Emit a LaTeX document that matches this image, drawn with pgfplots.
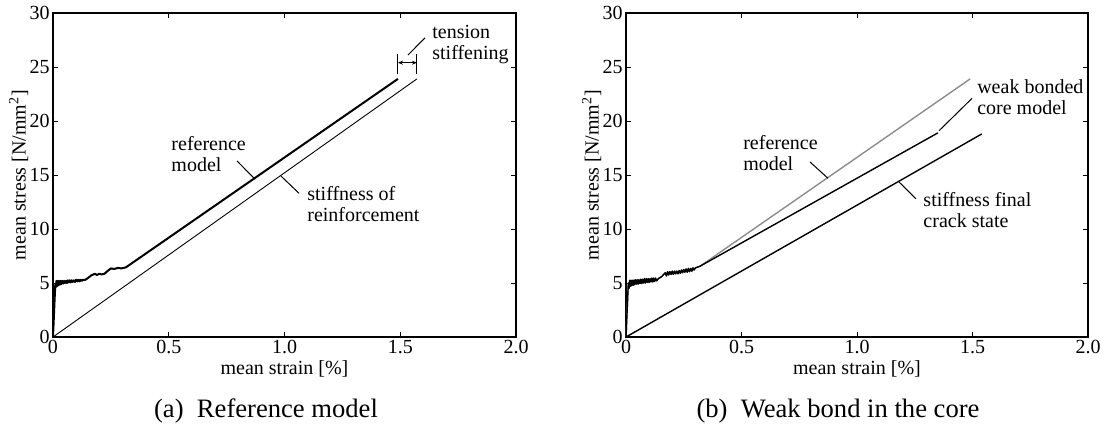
\documentclass[border=0pt]{standalone}
\usepackage{fontspec}
\setmainfont{Liberation Serif}
\usepackage{pgfplots}
\usepackage{pgfplotstable}
\pgfplotsset{compat=1.18}
\usetikzlibrary{arrows.meta}

% cracking plateau, reference model (a)
\pgfplotstableread{
x y
0 0
0.006 3.0
0.010 4.9
0.012 4.6
0.015 5.2
0.018 4.7
0.021 5.2
0.024 4.8
0.027 5.2
0.030 4.85
0.033 5.2
0.036 4.9
0.040 5.2
0.044 4.95
0.048 5.2
0.052 5.0
0.056 5.2
0.060 5.0
0.064 5.25
0.068 5.05
0.072 5.25
0.076 5.05
0.080 5.25
0.085 5.1
0.090 5.25
0.095 5.1
0.100 5.3
0.105 5.15
0.110 5.3
0.115 5.15
0.120 5.3
0.125 5.2
0.130 5.3
0.140 5.3
0.150 5.45
0.165 5.7
0.180 5.85
0.190 5.75
0.200 5.85
0.210 5.8
0.222 5.85
0.235 6.1
0.250 6.35
0.265 6.3
0.280 6.4
0.295 6.35
0.315 6.45
1.49 23.9
}\refA

% cracking plateau, figure (b)
\pgfplotstableread{
x y
0 0
0.006 3.0
0.010 5.0
0.013 4.5
0.016 5.25
0.019 4.7
0.022 5.25
0.025 4.75
0.028 5.25
0.031 4.8
0.034 5.25
0.037 4.85
0.040 5.3
0.044 4.9
0.048 5.3
0.052 4.9
0.056 5.3
0.060 4.95
0.064 5.35
0.068 4.95
0.072 5.35
0.076 5.0
0.080 5.4
0.084 5.0
0.088 5.4
0.092 5.05
0.096 5.4
0.100 5.05
0.104 5.4
0.108 5.1
0.112 5.45
0.116 5.1
0.120 5.45
0.124 5.15
0.128 5.45
0.132 5.2
0.140 5.4
0.155 5.6
0.170 5.95
0.175 5.65
0.180 6.05
0.185 5.75
0.190 6.05
0.195 5.8
0.200 6.1
0.205 5.8
0.210 6.1
0.215 5.85
0.220 6.1
0.225 5.85
0.230 6.15
0.235 5.9
0.240 6.2
0.245 5.95
0.250 6.25
0.255 6.0
0.260 6.3
0.265 6.0
0.270 6.35
0.275 6.05
0.280 6.35
0.285 6.1
0.290 6.4
0.295 6.2
0.300 6.4
0.320 6.55
}\crackB

\pgfplotsset{
  strainstress/.style={
    scale only axis, width=231.5pt, height=162pt,
    xmin=0, xmax=2, ymin=0, ymax=30,
    xtick={0,0.5,1,1.5,2}, xticklabels={0,0.5,1.0,1.5,2.0},
    ytick={0,5,...,30},
    tick align=inside, major tick length=2.5pt,
    axis line style={line width=1pt},
    tick style={line width=0.5pt, black},
    tick label style={font=\fontsize{10}{12}\selectfont},
    yticklabel style={inner sep=1.5pt},
    xticklabel style={inner sep=1.5pt},
    label style={font=\fontsize{10}{12}\selectfont},
    /pgf/number format/assume math mode=true,
    xlabel={mean strain [\%]},
    ylabel={mean stress [N/mm\textsuperscript{2}]},
    xlabel style={inner sep=0pt, yshift=-1.5pt},
    ylabel style={inner sep=0pt, yshift=-1pt},
    every axis plot/.append style={line join=round},
    anchor=south west, clip=false,
  },
}
\tikzset{note/.style={font=\fontsize{10}{10.5}\selectfont, align=left, anchor=west, inner sep=0pt}}

\begin{document}
\begin{tikzpicture}
\useasboundingbox (0,0) rectangle (553pt,-211.5pt);

% (a) reference model
\begin{axis}[strainstress, at={(26.5pt,-168.5pt)}]
\addplot[black, line width=1pt] table {\refA};
\addplot[black, line width=0.45pt] coordinates {(0,0) (1.572,23.9)};

\draw[line width=0.5pt] (axis cs:0.795,16.3) -- (axis cs:0.873,14.6);
\draw[line width=0.5pt] (axis cs:0.985,14.9) -- (axis cs:1.063,13.3);
\draw[line width=0.5pt] (axis cs:1.607,27.7) -- (axis cs:1.533,26.1);
\draw[line width=0.5pt] (axis cs:1.49,26.2) -- (axis cs:1.49,24.35);
\draw[line width=0.5pt] (axis cs:1.572,26.2) -- (axis cs:1.572,24.35);
\draw[line width=0.4pt, {Stealth[length=2.5pt,width=2pt]}-{Stealth[length=2.5pt,width=2pt]}]
  (axis cs:1.49,25.4) -- (axis cs:1.572,25.4);

\node[note] at (axis cs:0.51,16.9) {reference\\model};
\node[note] at (axis cs:1.097,12.3) {stiffness of\\reinforcement};
\node[note] at (axis cs:1.637,27.1) {tension\\stiffening};
\end{axis}

% (b) weak bond in the core
\begin{axis}[strainstress, width=231pt, at={(313pt,-168.5pt)}]
\addplot[black!45, line width=0.7pt] table {\crackB};
\addplot[black!45, line width=0.7pt] coordinates {(0.32,6.55) (1.49,23.9)};
\addplot[black, line width=0.7pt] table {\crackB};
\addplot[black, line width=0.7pt] coordinates {(0.32,6.55) (1.35,18.9)};
\addplot[black, line width=0.7pt] coordinates {(0,0) (1.54,18.8)};

\draw[line width=0.5pt] (axis cs:0.797,16.2) -- (axis cs:0.874,14.7);
\draw[line width=0.5pt] (axis cs:1.498,22.1) -- (axis cs:1.355,19.1);
\draw[line width=0.5pt] (axis cs:1.182,14.35) -- (axis cs:1.255,12.8);

\node[note] at (axis cs:0.506,17.0) {reference\\model};
\node[note] at (axis cs:1.519,22.2) {weak bonded\\core model};
\node[note] at (axis cs:1.286,11.8) {stiffness final\\crack state};
\end{axis}

\node[anchor=base, font=\fontsize{13.3}{16}\selectfont, inner sep=0pt] at (133pt,-208.5pt) {(a)\ \ Reference model};
\node[anchor=base, font=\fontsize{13.3}{16}\selectfont, inner sep=0pt] at (419pt,-208.5pt) {(b)\ \ Weak bond in the core};
\end{tikzpicture}
\end{document}
